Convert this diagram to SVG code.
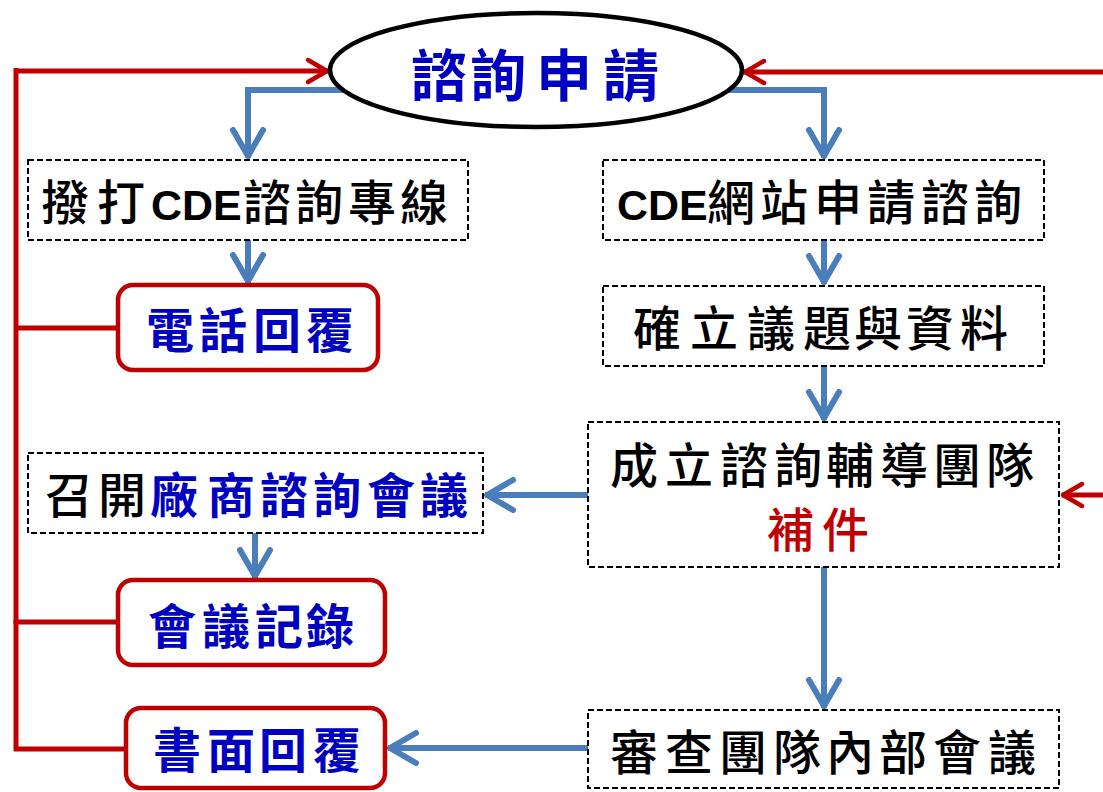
<svg xmlns="http://www.w3.org/2000/svg" width="1103" height="792" viewBox="0 0 1103 792">
<style>
.dash{fill:#fff;stroke:#000;stroke-width:2;stroke-dasharray:6 3}
.rbox{fill:#fff;stroke:#C00000;stroke-width:4.5}
.t{font-family:"Noto Sans CJK TC","Noto Sans CJK SC",sans-serif;font-size:48px;fill:#000;font-weight:500}
.b{fill:#0000C0;font-weight:bold}
.r{fill:#C00000}
.lat{font-family:"Liberation Sans",Arial,sans-serif;font-weight:bold;font-size:43px}
.bl{fill:none;stroke:#4A7EBB;stroke-width:6}
.rd{fill:none;stroke:#C00000;stroke-width:5}
</style>
<defs>
<marker id="ab" markerUnits="userSpaceOnUse" markerWidth="40" markerHeight="40" viewBox="-34 -20 40 40" refX="0" refY="0" orient="auto" overflow="visible">
<path d="M-28,-15 L-2,0 L-28,15" fill="none" stroke="#4A7EBB" stroke-width="6" stroke-linecap="round" stroke-linejoin="round"/>
</marker>
<marker id="ar" markerUnits="userSpaceOnUse" markerWidth="30" markerHeight="30" viewBox="-25 -15 30 30" refX="0" refY="0" orient="auto" overflow="visible">
<path d="M-20,-11 L-1,0 L-20,11" fill="none" stroke="#C00000" stroke-width="4.5" stroke-linecap="round" stroke-linejoin="round"/>
</marker>
</defs>
<rect width="1103" height="792" fill="#fff"/>
<g id="connectors">
<path class="rd" d="M16,71 H328" marker-end="url(#ar)"/>
<path class="rd" d="M1103,72 H744" marker-end="url(#ar)"/>
<path class="rd" d="M1103,495 H1062" marker-end="url(#ar)"/>
<path class="rd" d="M16,68 V624" stroke-width="8"/>
<path class="rd" d="M16,620 V751"/>
<path class="rd" d="M16,328 H118"/>
<path class="rd" d="M16,622 H118"/>
<path class="rd" d="M14,749 H126"/>
<path class="bl" d="M345,90 H248 V158" marker-end="url(#ab)"/>
<path class="bl" d="M727,90 H824 V158" marker-end="url(#ab)"/>
<path class="bl" d="M248,240 V283" marker-end="url(#ab)"/>
<path class="bl" d="M824,240 V284" marker-end="url(#ab)"/>
<path class="bl" d="M824,366 V420" marker-end="url(#ab)"/>
<path class="bl" d="M824,567 V708" marker-end="url(#ab)"/>
<path class="bl" d="M588,495 H485" marker-end="url(#ab)"/>
<path class="bl" d="M255,533 V578" marker-end="url(#ab)"/>
<path class="bl" d="M588,748 H388" marker-end="url(#ab)"/>
</g>
<g id="start">
<ellipse cx="536" cy="70" rx="206" ry="57" fill="#fff" stroke="#000" stroke-width="4.5"/>
<text class="t b" style="font-size:56px" x="411 470 536 603" y="96">諮詢申請</text>
</g>
<g id="phone">
<rect class="dash" x="28" y="160" width="440" height="80"/>
<text class="t" x="41 97" y="220">撥打<tspan class="lat" x="151">CDE</tspan><tspan x="243 295 348 400">諮詢專線</tspan></text>
</g>
<g id="phone-reply">
<rect class="rbox" x="118" y="285" width="260" height="85" rx="15"/>
<text class="t b" x="146 199 253 306" y="348">電話回覆</text>
</g>
<g id="web">
<rect class="dash" x="603" y="160" width="441" height="80"/>
<text class="t" x="617" y="220"><tspan class="lat">CDE</tspan><tspan x="707 760 814 867 921 974">網站申請諮詢</tspan></text>
</g>
<g id="topic">
<rect class="dash" x="603" y="286" width="441" height="80"/>
<text class="t" x="633 690 747 803 854 906 960" y="346">確立議題與資料</text>
</g>
<g id="team">
<rect class="dash" x="588" y="422" width="471" height="145"/>
<text class="t" x="610 665 720 774 826 880 933 986" y="483">成立諮詢輔導團隊</text>
<text class="t r" style="font-size:47px" x="767 822" y="547">補件</text>
</g>
<g id="meeting">
<rect class="dash" x="28" y="453" width="455" height="80"/>
<text class="t" x="45 98" y="513">召開<tspan class="b" x="150 207 260 313 367 420">廠商諮詢會議</tspan></text>
</g>
<g id="minutes">
<rect class="rbox" x="118" y="580" width="267" height="85" rx="15"/>
<text class="t b" x="148 202 255 306" y="644">會議記錄</text>
</g>
<g id="review">
<rect class="dash" x="588" y="710" width="471" height="78"/>
<text class="t" x="610 665 719 773 826 879 933 988" y="770">審查團隊內部會議</text>
</g>
<g id="written-reply">
<rect class="rbox" x="126" y="708" width="259" height="80" rx="15"/>
<text class="t b" x="153 207 259 313" y="768">書面回覆</text>
</g>
</svg>
